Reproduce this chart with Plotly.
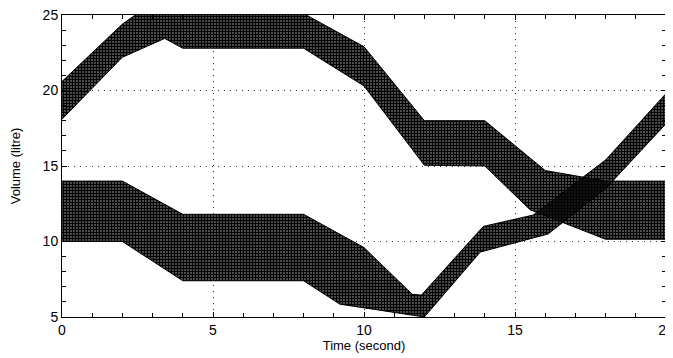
import plotly.graph_objects as go

# Band 1 (starts at 10-14 litre)
t1_top = [0, 2, 4, 8, 10, 11.6, 11.9, 13.95, 15.6, 18, 20]
v1_top = [14.0, 14.0, 11.8, 11.8, 9.6, 6.5, 6.45, 11.0, 11.75, 15.4, 19.8]
t1_bot = [0, 2, 4, 8, 9.2, 12, 13.85, 16.1, 18, 20]
v1_bot = [10.0, 10.0, 7.4, 7.4, 5.85, 5.0, 9.3, 10.5, 13.5, 17.8]

# Band 2 (starts at 18-20.6 litre)
t2_top = [0, 2, 2.5, 8, 10, 12, 14, 16, 18, 20]
v2_top = [20.6, 24.4, 25.1, 25.1, 22.9, 18.0, 18.0, 14.7, 14.0, 14.0]
t2_bot = [0, 2, 3.4, 4, 8, 10, 12, 14, 15.5, 18, 20]
v2_bot = [18.1, 22.2, 23.45, 22.8, 22.8, 20.3, 15.05, 15.0, 12.1, 10.15, 10.15]

x_ticks = [0, 5, 10, 15, 20]
y_ticks = [5, 10, 15, 20, 25]

fig = go.Figure()
for tt, vt, tb, vb in [(t1_top, v1_top, t1_bot, v1_bot), (t2_top, v2_top, t2_bot, v2_bot)]:
    fig.add_trace(go.Scatter(
        x=tt + tb[::-1], y=vt + vb[::-1],
        mode="lines", fill="toself",
        line=dict(color="black", width=1),
        fillcolor="black",
        fillpattern=dict(shape="+", size=3, solidity=0.85, fgcolor="black",
                         bgcolor="rgba(255,255,255,0)", fillmode="replace"),
        showlegend=False, hoverinfo="skip",
    ))

axis_common = dict(
    ticks="inside", ticklen=5, tickcolor="black", tickwidth=1,
    showline=True, linecolor="black", linewidth=1, mirror="ticks",
    showgrid=True, gridcolor="#333", griddash="1px,5px", gridwidth=1,
    zeroline=False, automargin=False, ticklabeloverflow="allow",
    tickfont=dict(family="Liberation Sans, Arial", size=14, color="black"),
    minor=dict(dtick=1, ticks="inside", ticklen=4, tickcolor="black", showgrid=False),
)

fig.update_layout(
    width=665, height=350,
    margin=dict(l=54, r=7, t=7, b=41),
    paper_bgcolor="white", plot_bgcolor="white",
    xaxis=dict(range=[0, 20], tickvals=x_ticks,
               title=dict(text="Time (second)", standoff=4,
                          font=dict(family="Liberation Sans, Arial", size=13, color="black")),
               **axis_common),
    yaxis=dict(range=[5, 25], tickvals=y_ticks,
               title=dict(text="Volume (litre)", standoff=22,
                          font=dict(family="Liberation Sans, Arial", size=13, color="black")),
               **axis_common),
)

fig.write_html("out.html")
